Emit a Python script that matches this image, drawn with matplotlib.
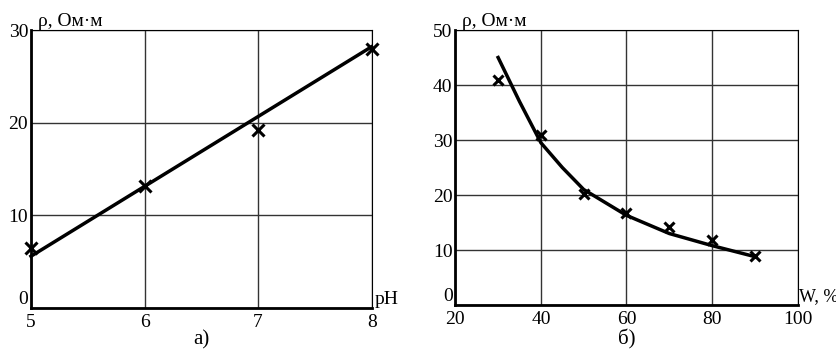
import numpy as np
import matplotlib.pyplot as plt

plt.rcParams['font.family'] = ['Liberation Serif', 'DejaVu Serif']

# panel a: resistivity vs pH
ph_pts = [5, 6, 7, 8]
rho_ph_pts = [6.5, 13.2, 19.2, 28.0]
ph_line = [5, 8]
rho_ph_line = [5.6, 28.2]

# panel b: resistivity vs moisture
w_pts = [30, 40, 50, 60, 70, 80, 90]
rho_w_pts = [41.0, 31.0, 20.2, 16.8, 14.2, 11.8, 9.0]
w_line = [30, 35, 40, 45, 50, 60, 70, 80, 90]
rho_w_line = [45.0, 37.0, 29.5, 25.0, 21.0, 16.3, 13.0, 10.8, 8.8]

fig = plt.figure(figsize=(8.37, 3.49), dpi=100)
ax1 = fig.add_axes([0.037, 0.117, 0.407, 0.797])
ax2 = fig.add_axes([0.544, 0.126, 0.409, 0.788])

def style(ax, xlim, ylim, xt, yt):
    ax.set_xlim(*xlim)
    ax.set_ylim(*ylim)
    ax.set_xticks(xt)
    ax.set_yticks(yt)
    ax.grid(True, color='#333333', linewidth=1.0)
    ax.set_axisbelow(True)
    for s in ['top', 'right']:
        ax.spines[s].set_linewidth(0.8)
    for s in ['left', 'bottom']:
        ax.spines[s].set_linewidth(2.0)
    ax.tick_params(axis='y', length=0, labelsize=14, pad=2)
    ax.tick_params(axis='x', length=0, labelsize=14, pad=4)
    # zero label sits just above the x axis
    ax.get_yticklabels()[0].set_verticalalignment('bottom')

style(ax1, (5, 8), (0, 30), [5, 6, 7, 8], [0, 10, 20, 30])
ax1.plot(ph_line, rho_ph_line, color='black', lw=2.5, clip_on=False)
ax1.plot(ph_pts, rho_ph_pts, 'x', color='black', ms=9, mew=2.2, clip_on=False)
ax1.text(0.02, 1.0, 'ρ, Ом·м', transform=ax1.transAxes, fontsize=14, va='bottom')
ax1.text(1.01, 0.0, 'pH', transform=ax1.transAxes, fontsize=14, va='bottom')
ax1.text(0.5, -0.115, 'а)', transform=ax1.transAxes, fontsize=15, ha='center', va='center')

style(ax2, (20, 100), (0, 50), [20, 40, 60, 80, 100], [0, 10, 20, 30, 40, 50])
ax2.plot(w_line, rho_w_line, color='black', lw=2.5)
ax2.plot(w_pts, rho_w_pts, 'x', color='black', ms=7, mew=2.2)
ax2.text(0.02, 1.0, 'ρ, Ом·м', transform=ax2.transAxes, fontsize=14, va='bottom')
ax2.text(1.003, 0.0, 'W, %', transform=ax2.transAxes, fontsize=13, va='bottom')
ax2.text(0.5, -0.127, 'б)', transform=ax2.transAxes, fontsize=15, ha='center', va='center')

fig.savefig('out.png', dpi=100)
